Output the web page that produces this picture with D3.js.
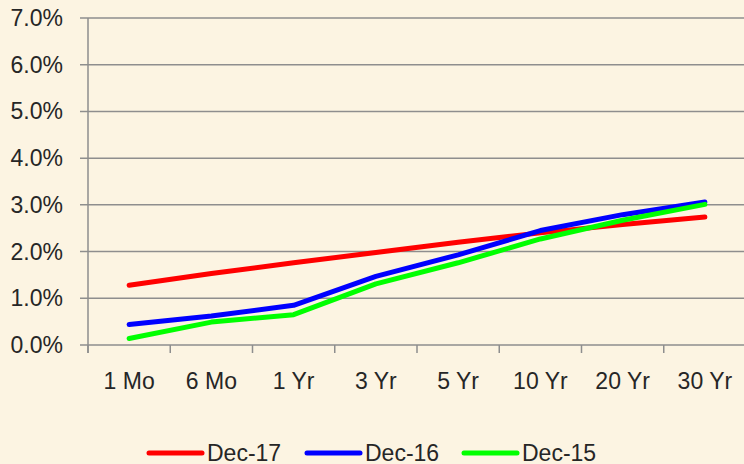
<!DOCTYPE html>
<html>
<head>
<meta charset="utf-8">
<script src="https://cdn.jsdelivr.net/npm/d3@7"></script>
<style>
  body { margin: 0; background: #fcf4e2; }
  svg { display: block; }
  text { font-family: "Liberation Sans", Arial, sans-serif; fill: #262626; }
</style>
</head>
<body>
<svg id="chart" width="744" height="464"></svg>
<script>
// tenors on the x axis
var tenors = ["1 Mo", "6 Mo", "1 Yr", "3 Yr", "5 Yr", "10 Yr", "20 Yr", "30 Yr"];
// yields in percent
var dec17 = [1.28, 1.53, 1.76, 1.98, 2.20, 2.40, 2.58, 2.74];
var dec16 = [0.44, 0.62, 0.85, 1.47, 1.93, 2.45, 2.79, 3.06];
var dec15 = [0.14, 0.49, 0.65, 1.31, 1.76, 2.27, 2.67, 3.01];
var seriesNames = ["Dec-17", "Dec-16", "Dec-15"];
var seriesColors = ["#ff0000", "#0000ff", "#00ff00"];
var yTicks = [0, 1, 2, 3, 4, 5, 6, 7];

var series = [dec17, dec16, dec15];

var svg = d3.select("#chart");
var plotL = 88, plotR = 746, plotT = 18, plotB = 345;
var fs = 23;

var x = d3.scaleBand().domain(tenors).range([plotL, plotR]);
var y = d3.scaleLinear().domain([0, 7]).range([plotB, plotT]);

// gridlines
svg.append("g")
  .selectAll("line")
  .data(yTicks)
  .join("line")
  .attr("x1", plotL - 8).attr("x2", 744)
  .attr("y1", function(d) { return y(d); })
  .attr("y2", function(d) { return y(d); })
  .attr("stroke", "#8e8e8e")
  .attr("stroke-width", 1.5);

// y axis line
svg.append("line")
  .attr("x1", plotL).attr("x2", plotL)
  .attr("y1", plotT).attr("y2", plotB + 8)
  .attr("stroke", "#8e8e8e").attr("stroke-width", 1.5);

// y labels
svg.append("g")
  .selectAll("text")
  .data(yTicks)
  .join("text")
  .attr("x", 63)
  .attr("y", function(d) { return y(d) + 8; })
  .attr("text-anchor", "end")
  .attr("font-size", fs)
  .text(function(d) { return d.toFixed(1) + "%"; });

// x tick marks
svg.append("g")
  .selectAll("line")
  .data(tenors)
  .join("line")
  .attr("x1", function(d) { return x(d); })
  .attr("x2", function(d) { return x(d); })
  .attr("y1", plotB).attr("y2", plotB + 8)
  .attr("stroke", "#8e8e8e").attr("stroke-width", 1.5);

// x labels
svg.append("g")
  .selectAll("text")
  .data(tenors)
  .join("text")
  .attr("x", function(d) { return x(d) + x.bandwidth() / 2; })
  .attr("y", 389)
  .attr("text-anchor", "middle")
  .attr("font-size", fs)
  .text(function(d) { return d; });

// lines
var line = d3.line()
  .x(function(d, i) { return x(tenors[i]) + x.bandwidth() / 2; })
  .y(function(d) { return y(d); });

svg.append("g")
  .selectAll("path")
  .data(series)
  .join("path")
  .attr("d", line)
  .attr("fill", "none")
  .attr("stroke", function(d, i) { return seriesColors[i]; })
  .attr("stroke-width", 5)
  .attr("stroke-linecap", "round")
  .attr("stroke-linejoin", "round");

// legend
var legendX = [149, 307, 464];
var lg = svg.append("g")
  .selectAll("g")
  .data(seriesNames)
  .join("g")
  .attr("transform", function(d, i) { return "translate(" + legendX[i] + ",453)"; });
lg.append("line")
  .attr("x1", 0).attr("x2", 53)
  .attr("stroke", function(d, i) { return seriesColors[i]; })
  .attr("stroke-width", 5)
  .attr("stroke-linecap", "round");
lg.append("text")
  .attr("x", 58).attr("y", 8)
  .attr("font-size", fs)
  .text(function(d) { return d; });
</script>
</body>
</html>
